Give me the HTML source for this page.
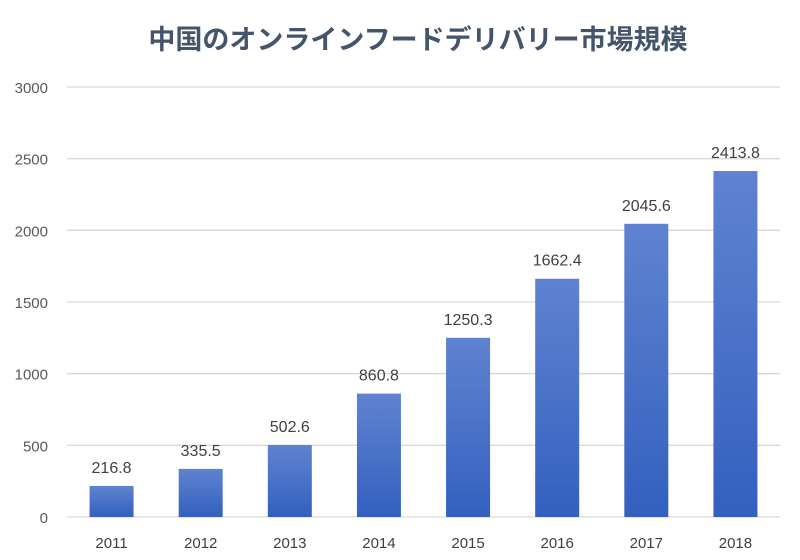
<!DOCTYPE html>
<html><head><meta charset="utf-8"><style>
body{margin:0;background:#fff;}
svg{display:block;font-family:"Liberation Sans","Noto Sans CJK JP",sans-serif;}
</style></head><body>
<svg width="800" height="560" viewBox="0 0 800 560">
<defs><linearGradient id="g" x1="0" y1="0" x2="0" y2="1"><stop offset="0" stop-color="#5f83d0"/><stop offset="1" stop-color="#3360bf"/></linearGradient></defs>
<text x="418" y="49" text-anchor="middle" font-size="27" font-weight="bold" fill="#44546a">中国のオンラインフードデリバリー市場規模</text>
<g id="grid"></g><g id="bars"></g>
</svg>
<script>
const categories=["2011","2012","2013","2014","2015","2016","2017","2018"];
const values=[216.8,335.5,502.6,860.8,1250.3,1662.4,2045.6,2413.8];
const yTicks=[0,500,1000,1500,2000,2500,3000];
const ns="http://www.w3.org/2000/svg";
const x0=67,x1=780,y0=517,yTop=87,yMax=3000;
const step=(x1-x0)/categories.length;
const xc=i=>x0+step*(i+0.5);
const y=v=>y0-(v/yMax)*(y0-yTop);
function mk(t,a,p){const e=document.createElementNS(ns,t);for(const k in a)e.setAttribute(k,a[k]);p.appendChild(e);return e;}
const grid=document.getElementById('grid'),bars=document.getElementById('bars');
yTicks.forEach(v=>{
 const l=mk('line',{x1:x0,x2:x1,y1:y(v),y2:y(v),stroke:'#d9d9d9','stroke-width':1.3},grid);
 
 
 const t=mk('text',{x:48,y:y(v)+6,'text-anchor':'end','font-size':15,fill:'#595959'},grid);
 t.textContent=v;
 
 
});
categories.forEach((c,i)=>{
 const r=mk('rect',{x:xc(i)-22,y:y(values[i]),width:44,height:y0-y(values[i]),fill:'url(#g)'},bars);
 
 
 const t=mk('text',{x:xc(i),y:y(values[i])-13,'text-anchor':'middle','font-size':16,fill:'#404040'},bars);
 t.textContent=values[i];
 
 
 const xl=mk('text',{x:xc(i),y:548,'text-anchor':'middle','font-size':15,fill:'#404040'},bars);
 xl.textContent=c;
 
 
});
</script>
</body></html>
